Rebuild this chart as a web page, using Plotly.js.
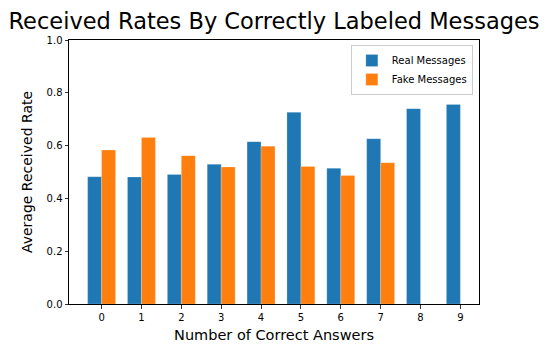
<!DOCTYPE html>
<html>
<head>
<meta charset="utf-8">
<script src="https://cdn.plot.ly/plotly-3.0.1.min.js"></script>
<style>
  html, body { margin: 0; padding: 0; background: #fff; }
  #chart { width: 548px; height: 347px; }
</style>
</head>
<body>
<div id="chart"></div>
<script>
// === Datos ===
const answers = [0, 1, 2, 3, 4, 5, 6, 7, 8, 9];
const realRates = [0.482, 0.481, 0.491, 0.529, 0.615, 0.726, 0.514, 0.626, 0.740, 0.756];
const fakeAnswers = [0, 1, 2, 3, 4, 5, 6, 7];
const fakeRates = [0.583, 0.631, 0.562, 0.519, 0.598, 0.521, 0.487, 0.535];
const yTicks = [0, 0.2, 0.4, 0.6, 0.8, 1.0];

const font = "DejaVu Sans, sans-serif";
const barW = 0.35;

const traces = [
  {
    type: "bar",
    name: "Real Messages",
    x: answers,
    y: realRates,
    width: barW,
    offset: -barW,
    marker: { color: "#1f77b4", line: { color: "rgba(255,255,255,0.4)", width: 0.5 } }
  },
  {
    type: "bar",
    name: "Fake Messages",
    x: fakeAnswers,
    y: fakeRates,
    width: barW,
    offset: 0,
    marker: { color: "#ff7f0e", line: { color: "rgba(255,255,255,0.4)", width: 0.5 } }
  }
];

const layout = {
  width: 548,
  height: 347,
  margin: { l: 69, r: 69, t: 40, b: 43 },
  paper_bgcolor: "#fff",
  plot_bgcolor: "#fff",
  font: { family: font, color: "#000" },
  barmode: "overlay",
  showlegend: true,
  title: {
    text: "Received Rates By Correctly Labeled Messages",
    font: { family: font, size: 22.5, color: "#000" },
    x: 0.5, xanchor: "center", y: 0.94, yanchor: "middle"
  },
  xaxis: {
    range: [-0.8175, 9.4675],
    tickmode: "array",
    tickvals: answers,
    ticktext: answers.map(String),
    ticks: "outside", ticklen: 3.5, tickwidth: 0.8, tickcolor: "#000",
    tickfont: { size: 10, family: font },
    showline: true, linecolor: "#000", linewidth: 1, mirror: true,
    showgrid: false, zeroline: false,
    title: { text: "Number of Correct Answers", font: { size: 14.5, family: font }, standoff: 8 }
  },
  yaxis: {
    range: [0, 1],
    tickmode: "array",
    tickvals: yTicks,
    ticktext: yTicks.map(v => v.toFixed(1)),
    ticks: "outside", ticklen: 3.5, tickwidth: 0.8, tickcolor: "#000",
    tickfont: { size: 10, family: font },
    showline: true, linecolor: "#000", linewidth: 1, mirror: true,
    showgrid: false, zeroline: false,
    title: { text: "Average Received Rate", font: { size: 14, family: font }, standoff: 10 }
  },
  legend: {
    x: 0.985, xanchor: "right",
    y: 0.981, yanchor: "top",
    bgcolor: "rgba(255,255,255,0.8)",
    bordercolor: "#ccc", borderwidth: 1,
    font: { size: 10, family: font }
  }
};

Plotly.newPlot("chart", traces, layout, { displayModeBar: false, staticPlot: true });
</script>
</body>
</html>
